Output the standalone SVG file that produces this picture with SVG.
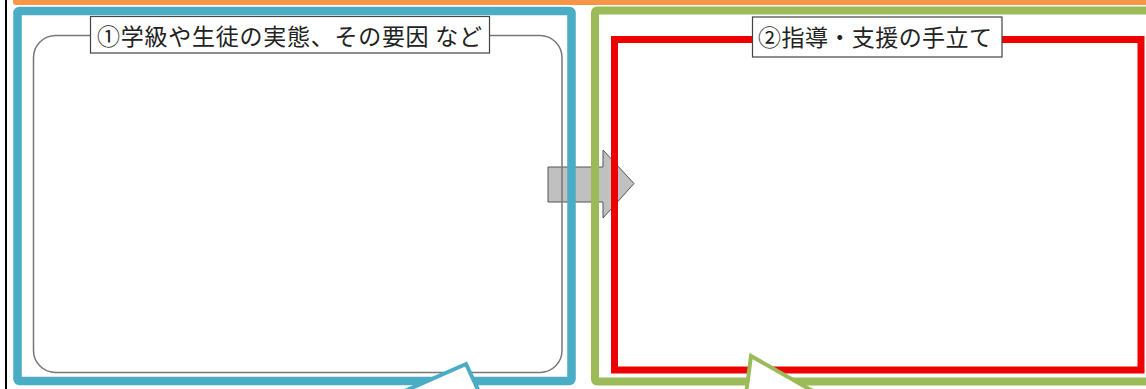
<svg xmlns="http://www.w3.org/2000/svg" width="1146" height="389" viewBox="0 0 1146 389">
  <style>
    .label { font-family: "Noto Sans CJK JP", "Noto Sans CJK SC", sans-serif; font-size: 23px; fill: #222; }
    .lbox { fill: #fff; stroke: #444; stroke-width: 1.2; }
    .tail { fill: #fff; stroke-width: 4; stroke-linejoin: miter; }
  </style>
  <rect width="1146" height="389" fill="#fff"/>
  <g id="page-frame">
    <line x1="6" y1="0" x2="6" y2="389" stroke="#000" stroke-width="2"/>
    <rect x="13" y="-6" width="1140" height="11" rx="3" fill="#f79646"/>
  </g>
  <g id="connectors">
    <polygon points="548,167 603,167 603,150 634,183.5 603,218 603,202 548,202" fill="#c0c0c0" stroke="#555" stroke-width="1"/>
  </g>
  <g id="node-situation">
    <rect x="33.5" y="35.5" width="528.5" height="337" rx="22" fill="none" stroke="#777" stroke-width="1.5"/>
    <rect x="17.5" y="11" width="554" height="370" rx="2" fill="none" stroke="#4bacc6" stroke-width="8.5"/>
    <rect class="lbox" x="90.5" y="16.5" width="399" height="36.5"/>
    <text class="label" x="97" y="45" textLength="385" lengthAdjust="spacing">①学級や生徒の実態、その要因 など</text>
    <polygon class="tail" points="398,394 466,364 480,394" stroke="#4bacc6"/>
  </g>
  <g id="node-support">
    <rect x="595" y="10.5" width="556" height="371" rx="2" fill="none" stroke="#9bbb59" stroke-width="8"/>
    <rect x="614.5" y="39.5" width="526.5" height="330.5" fill="none" stroke="#ee0000" stroke-width="7"/>
    <rect class="lbox" x="752.5" y="17" width="249.5" height="40"/>
    <text class="label" x="758" y="46" textLength="234" lengthAdjust="spacing">②指導・支援の手立て</text>
    <polygon class="tail" points="746,394 751,356 818,394" stroke="#9bbb59"/>
  </g>
</svg>
